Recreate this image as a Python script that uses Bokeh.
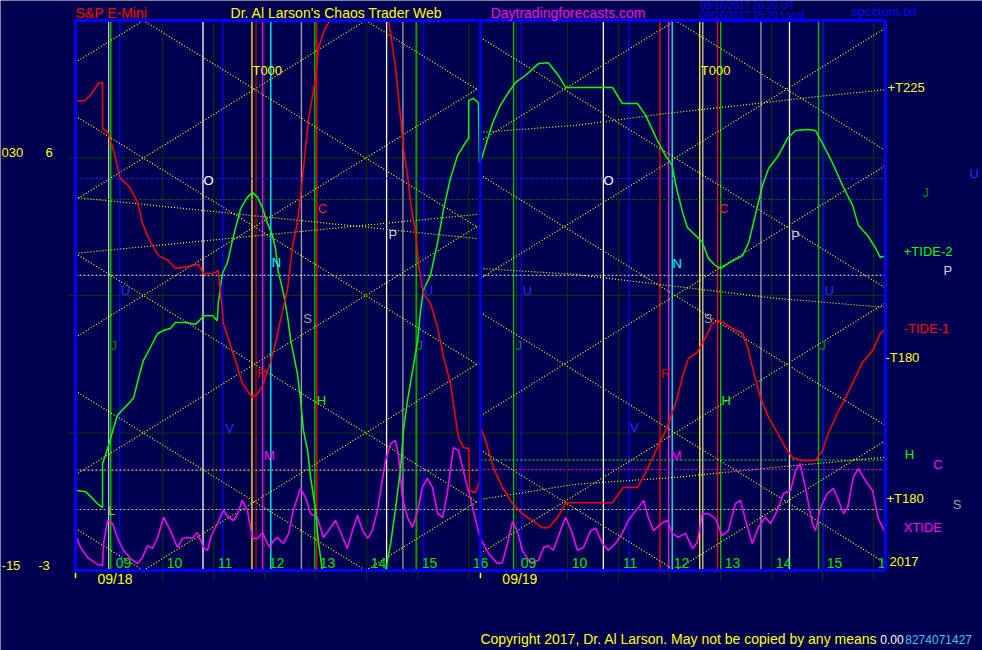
import numpy as np
from bokeh.plotting import figure
from bokeh.models import Range1d, ColumnDataSource
from bokeh.embed import file_html
from bokeh.resources import INLINE
from bokeh.core.properties import value

FONT = "Liberation Sans"
BG = "#000050"

# ---------------- data ----------------
DAY_FIRST_HOUR = 8.29
DAY_LAST_HOUR = 16.23
DAY2_OFFSET = 7.94
DAY_LABELS = ["09/18", "09/19"]
HOURS = [9, 10, 11, 12, 13, 14, 15, 16]
HOUR_LABELS = ["09", "10", "11", "12", "13", "14", "15", "16"]
GRID_LEVELS = [0, 3, 6]
Y_MIN, Y_MAX = -3, 9

# lattice (yellow dotted diamond net)
LATTICE_TOP_HOUR = [9.62, 12.11]
LATTICE_END_HOUR = [16.17, 16.23]
LATTICE_HALF_WIDTH = 2.18
LATTICE_SPACING = 3.0

# slow yellow lines
TLINE_D1A_H = [8.29, 16.17]
TLINE_D1A_V = [5.14, 4.24]
TLINE_D1B_H = [8.29, 16.17]
TLINE_D1B_V = [3.92, 4.77]
T225_H = [8.29, 10.15, 11.92, 13.88, 14.72, 16.23]
T225_V = [6.56, 6.71, 6.97, 7.21, 7.32, 7.49]
T180M_H = [8.29, 10.15, 12.11, 14.07, 16.23]
T180M_V = [3.59, 3.46, 3.20, 2.94, 2.74]
T180P_H = [8.29, 10.15, 12.11, 14.07, 16.23]
T180P_V = [-1.45, -1.12, -0.97, -0.75, -0.53]

# horizontal dotted levels
HLEVEL_BLUE = 5.55
HLEVEL_DKGREEN = 5.09
HLEVEL_WHITE = 3.44
HLEVEL_MAGENTA = -0.80
HLEVEL_GREEN = [-0.82, -0.59]
HLEVEL_GRAY = -1.67

# vertical event lines
VL_D1_HOUR = [8.94, 8.98, 9.16, 10.79, 11.18, 11.75, 11.83, 11.96, 12.12, 12.72, 12.98, 13.02, 14.39, 14.71, 14.97, 15.12]
VL_D1_KIND = ["silver", "green", "blue", "white", "blue", "yellow", "darkred", "magenta", "cyan", "gray", "green", "red", "white", "gray", "green", "blue"]
VL_D2_HOUR = [8.94, 9.09, 10.70, 11.20, 11.81, 11.98, 12.05, 12.59, 12.65, 12.94, 13.00, 13.79, 14.35, 14.92, 15.02]
VL_D2_KIND = ["green", "blue", "white", "blue", "red", "magenta", "cyan", "yellow", "tan", "red", "green", "gray", "white", "green", "blue"]

# red series
RED_D1_H = [8.29, 8.47, 8.58, 8.74, 8.82, 8.82, 8.92, 9.02, 9.17, 9.33, 9.51, 9.60, 9.70, 9.80, 9.92, 10.11, 10.25, 10.49, 10.70, 10.80,
            11.00, 11.09, 11.13, 11.19, 11.33, 11.47, 11.56, 11.76, 11.86, 11.96, 12.11, 12.21, 12.35, 12.45, 12.54, 12.64, 12.70, 12.80, 12.86, 12.94,
            13.00, 13.05, 13.19, 13.29, 14.37, 14.43, 14.56, 14.66, 14.72, 14.80, 14.86, 14.96, 15.02, 15.11, 15.25, 15.39, 15.51, 15.64, 15.80, 15.90,
            16.00, 16.02, 16.13, 16.21, 16.23]
RED_D1_V = [7.25, 7.25, 7.36, 7.63, 7.65, 6.64, 6.56, 6.23, 5.55, 5.40, 5.03, 4.59, 4.31, 4.09, 3.87, 3.76, 3.59, 3.63, 3.68, 3.48,
            3.48, 3.55, 3.11, 2.39, 1.91, 1.43, 1.08, 0.77, 0.86, 1.04, 1.54, 1.95, 2.67, 3.15, 4.03, 4.59, 5.12, 6.21, 6.86, 7.36,
            7.76, 8.39, 8.85, 9.40, 9.40, 9.00, 8.02, 6.93, 6.21, 5.62, 5.03, 4.37, 3.65, 3.04, 2.83, 2.30, 1.65, 1.08, -0.10, -0.32,
            -0.34, -1.26, -1.30, -1.08, 0.10]
RED_D2_H = [8.29, 8.39, 8.54, 8.72, 8.92, 9.11, 9.31, 9.51, 9.62, 9.80, 9.96, 10.00, 10.88, 11.09, 11.37, 11.53, 11.76, 11.92, 12.05, 12.15,
            12.27, 12.37, 12.54, 12.70, 12.84, 12.96, 13.05, 13.23, 13.43, 13.53, 13.64, 13.78, 13.94, 14.11, 14.27, 14.41, 14.60, 14.86, 15.00, 15.11,
            15.29, 15.45, 15.64, 15.78, 15.98, 16.13, 16.21]
RED_D2_V = [0.12, -0.16, -0.75, -1.19, -1.54, -1.76, -1.91, -2.07, -2.07, -1.85, -1.54, -1.52, -1.52, -1.19, -1.19, -0.86, -0.32, 0.05, 0.43, 0.77,
            1.30, 1.63, 1.76, 2.08, 2.39, 2.45, 2.41, 2.28, 2.17, 1.87, 1.36, 0.77, 0.34, 0.01, -0.32, -0.54, -0.60, -0.60, -0.38, -0.01,
            0.43, 0.77, 1.21, 1.54, 1.80, 2.17, 2.24]

# green series
GRN_D1_H = [8.29, 8.49, 8.72, 8.82, 8.82, 8.92, 9.02, 9.11, 9.23, 9.33, 9.43, 9.53, 9.62, 9.76, 9.90, 10.02, 10.15, 10.25, 10.45, 10.64,
            10.78, 10.80, 10.98, 11.07, 11.09, 11.17, 11.27, 11.39, 11.53, 11.66, 11.76, 11.86, 11.96, 12.05, 12.15, 12.21, 12.27, 12.37, 12.45, 12.51,
            12.64, 12.70, 12.76, 12.84, 12.90, 12.96, 13.00, 13.05, 13.13, 14.37, 14.47, 14.56, 14.66, 14.72, 14.80, 14.90, 15.00, 15.05, 15.11, 15.25,
            15.39, 15.51, 15.64, 15.78, 15.94, 16.00, 16.00, 16.09, 16.19, 16.21]
GRN_D1_V = [-1.25, -1.28, -1.54, -1.63, -0.67, -0.34, 0.05, 0.38, 0.53, 0.64, 0.77, 1.21, 1.58, 1.87, 2.17, 2.24, 2.28, 2.41, 2.41, 2.37,
            2.52, 2.56, 2.56, 2.45, 2.83, 3.48, 3.72, 4.31, 4.90, 5.14, 5.25, 5.14, 4.90, 4.59, 4.31, 4.03, 3.50, 3.04, 2.52, 2.02,
            1.30, 0.77, 0.05, -0.38, -0.97, -1.41, -1.73, -2.35, -3.40, -3.40, -2.41, -1.69, -0.82, 0.05, 0.71, 1.36, 2.02, 2.61, 3.11, 3.44,
            4.16, 4.90, 5.55, 6.05, 6.34, 6.43, 7.25, 7.30, 7.21, 5.90]
GRN_D2_H = [8.29, 8.39, 8.53, 8.68, 8.84, 8.98, 9.17, 9.43, 9.62, 9.82, 9.96, 10.88, 11.07, 11.37, 11.53, 11.76, 11.92, 12.05, 12.11, 12.17,
            12.27, 12.35, 12.51, 12.64, 12.76, 12.90, 13.00, 13.15, 13.43, 13.55, 13.68, 13.82, 13.94, 14.13, 14.31, 14.47, 14.72, 14.86, 15.02, 15.19,
            15.39, 15.59, 15.70, 15.88, 16.04, 16.13, 16.23]
GRN_D2_V = [5.90, 6.27, 6.77, 7.15, 7.43, 7.65, 7.80, 8.06, 8.08, 7.80, 7.54, 7.54, 7.19, 7.19, 6.93, 6.38, 6.05, 5.84, 5.47, 5.18,
            4.75, 4.48, 4.31, 4.16, 3.81, 3.65, 3.59, 3.70, 3.87, 4.16, 4.75, 5.40, 5.77, 6.05, 6.43, 6.60, 6.62, 6.60, 6.27, 5.90,
            5.40, 4.96, 4.53, 4.31, 4.03, 3.83, 3.87]

# magenta series (XTIDE)
MAG_D1_H = [8.29, 8.39, 8.53, 8.72, 8.82, 8.84, 8.92, 9.02, 9.11, 9.23, 9.37, 9.51, 9.60, 9.70, 9.80, 9.90, 10.02, 10.15, 10.29, 10.39,
            10.49, 10.58, 10.68, 10.80, 10.88, 10.94, 11.07, 11.19, 11.29, 11.39, 11.47, 11.56, 11.66, 11.76, 11.86, 11.96, 12.05, 12.11, 12.17, 12.25,
            12.37, 12.47, 12.56, 12.70, 12.80, 12.90, 13.03, 13.15, 13.25, 13.39, 13.53, 13.62, 13.72, 13.82, 13.92, 14.02, 14.11, 14.21, 14.37, 14.47,
            14.56, 14.62, 14.70, 14.80, 14.90, 15.00, 15.09, 15.19, 15.29, 15.39, 15.49, 15.58, 15.70, 15.80, 15.94, 16.03, 16.17]
MAG_D1_V = [-2.24, -2.50, -2.72, -2.87, -2.89, -2.41, -1.91, -1.98, -2.28, -2.56, -2.74, -2.85, -2.72, -2.46, -2.52, -2.28, -1.84, -2.13, -2.50, -2.30,
            -2.28, -2.30, -2.17, -2.50, -2.56, -2.28, -1.98, -1.69, -1.84, -1.91, -1.76, -1.47, -1.69, -2.30, -2.30, -2.17, -2.41, -2.50, -2.35, -2.28,
            -2.41, -2.19, -1.69, -1.21, -1.41, -1.76, -1.84, -2.28, -2.13, -1.91, -2.28, -2.52, -2.13, -1.80, -2.13, -2.30, -2.13, -1.69, -0.60, -0.23,
            -0.16, -0.45, -1.41, -1.84, -2.06, -1.69, -1.19, -0.99, -1.19, -1.76, -1.84, -1.32, -0.32, -0.38, -1.04, -1.41, -2.06]
MAG_D2_H = [8.29, 8.45, 8.62, 8.72, 8.82, 8.92, 9.02, 9.11, 9.27, 9.43, 9.53, 9.62, 9.72, 9.86, 9.96, 10.09, 10.19, 10.31, 10.45, 10.55,
            10.68, 10.80, 10.94, 11.07, 11.19, 11.29, 11.39, 11.49, 11.58, 11.68, 11.86, 11.96, 12.05, 12.17, 12.31, 12.45, 12.54, 12.64, 12.76, 12.90,
            13.03, 13.15, 13.29, 13.39, 13.49, 13.62, 13.74, 13.88, 13.98, 14.11, 14.23, 14.37, 14.47, 14.56, 14.66, 14.80, 14.86, 14.96, 15.09, 15.21,
            15.31, 15.41, 15.49, 15.60, 15.70, 15.84, 15.98, 16.09, 16.21]
MAG_D2_V = [-2.30, -2.63, -2.85, -2.83, -2.41, -1.93, -2.17, -2.56, -2.83, -2.78, -2.50, -2.46, -2.56, -2.13, -1.84, -2.19, -2.56, -2.50, -2.13, -2.08,
            -2.41, -2.56, -2.41, -2.19, -1.91, -1.76, -1.63, -1.47, -1.84, -2.13, -1.96, -1.91, -2.19, -2.28, -2.19, -2.52, -2.39, -1.76, -1.76, -1.87,
            -2.24, -2.13, -1.54, -1.47, -1.91, -2.41, -2.06, -1.84, -1.98, -1.69, -1.32, -1.26, -0.82, -0.67, -1.19, -1.98, -2.13, -1.63, -1.32, -1.21,
            -1.47, -1.76, -1.63, -0.97, -0.78, -1.04, -1.26, -1.87, -2.13]

# letter markers in the chart
LET_D1 = ["T000", "O", "C", "P", "N", "U", "U", "S", "J", "J", "R", "H", "V", "M", "L"]
LET_D1_H = [12.05, 10.90, 13.13, 14.51, 12.23, 9.27, 15.21, 12.84, 9.04, 15.04, 11.94, 13.11, 11.31, 12.09, 9.00]
LET_D1_V = [7.91, 5.51, 4.90, 4.33, 3.72, 3.11, 3.11, 2.50, 1.91, 1.91, 1.30, 0.71, 0.10, -0.49, -1.69]
LET_D2 = ["T000", "O", "C", "P", "N", "U", "U", "S", "R", "J", "J", "H", "V", "M"]
LET_D2_H = [12.90, 10.80, 13.06, 14.47, 12.15, 9.21, 15.13, 12.76, 11.92, 9.04, 15.00, 13.11, 11.31, 12.13]
LET_D2_V = [7.91, 5.51, 4.90, 4.31, 3.70, 3.11, 3.11, 2.50, 1.30, 1.91, 1.91, 0.71, 0.12, -0.49]

# legend texts on the right (name, level)
RIGHT_NAMES = ["+T225", "U", "J", "+TIDE-2", "P", "-TIDE-1", "-T180", "H", "C", "+T180", "S", "XTIDE", "2017"]
RIGHT_LEVELS = [7.54, 5.66, 5.25, 3.96, 3.55, 2.28, 1.65, -0.47, -0.69, -1.43, -1.56, -2.06, -2.80]

# ---------------- styles / layout ----------------
KIND_COLOR = {"white": "#ffffff", "gray": "#a0a0a0", "silver": "#c8c8c8", "green": "#00c000",
              "blue": "#0000ff", "yellow": "#ffff00", "darkred": "#c00000", "red": "#ff0000",
              "magenta": "#ff00ff", "cyan": "#00ffff", "tan": "#d0c8a0"}
LETTER_COLOR = {"T000": "#ffff00", "O": "#ffffff", "C": "#ff2020", "P": "#d0d0d0", "N": "#00ffff",
                "U": "#2030ff", "S": "#a0a0a0", "J": "#008800", "R": "#d00000", "H": "#00ff00",
                "V": "#2030ff", "M": "#ff00ff", "L": "#a0a0a0"}
RIGHT_COLOR = ["#ffff00", "#2030ff", "#008800", "#00ff00", "#d0d0d0", "#ff0000", "#ffff00",
               "#00ff00", "#ff00ff", "#ffff00", "#a0a0a0", "#ff00ff", "#ffff00"]
RIGHT_X = [24.21, 25.82, 24.90, 24.53, 25.31, 24.53, 24.17, 24.55, 25.11, 24.19, 25.49, 24.53, 24.25]
DKGRID = "#003c00"

W, H = 982, 650
PX_PER_HOUR = 51.0
PX_PER_UNIT = 45.83
X0 = DAY_FIRST_HOUR
X1 = DAY_FIRST_HOUR + 2 * DAY2_OFFSET
XL = X0 - 75 / PX_PER_HOUR
XR = XL + W / PX_PER_HOUR
YT = Y_MAX + 20 / PX_PER_UNIT
YB = YT - H / PX_PER_UNIT

p = figure(width=W, height=H, x_range=Range1d(XL, XR), y_range=Range1d(YB, YT),
           x_axis_type=None, y_axis_type=None, toolbar_location=None, output_backend="svg",
           min_border=0, background_fill_color=BG, border_fill_color=BG)
p.grid.visible = False
p.outline_line_color = None


def seg(x0, y0, x1, y1, color, width=1.0, dash="solid"):
    p.segment(x0=list(x0), y0=list(y0), x1=list(x1), y1=list(y1), line_color=color,
              line_width=width, line_dash=dash)


def txt(xs, ys, texts, colors, size="13px", align="left", baseline="middle"):
    src = ColumnDataSource(dict(x=list(xs), y=list(ys), text=list(texts), color=list(colors)))
    p.text(x="x", y="y", text="text", text_color="color", source=src, text_font=value(FONT),
           text_font_size=size, text_align=align, text_baseline=baseline)


# hour lines (dark green) with ticks below the axis
hx = [h + d * DAY2_OFFSET for d in range(2) for h in HOURS]
seg(hx, [Y_MIN - 0.22] * len(hx), hx, [Y_MAX] * len(hx), DKGRID)
# horizontal grid levels with small ticks on the left
seg([X0 - 0.14] * 3, GRID_LEVELS, [X1] * 3, GRID_LEVELS, DKGRID)

# vertical event lines
vx = list(VL_D1_HOUR) + [h + DAY2_OFFSET for h in VL_D2_HOUR]
vc = [KIND_COLOR[k] for k in VL_D1_KIND + VL_D2_KIND]
p.segment(x0=vx, y0=[Y_MIN] * len(vx), x1=vx, y1=[Y_MAX] * len(vx), line_color=vc, line_width=1.3)

# horizontal dotted levels
seg([X0], [HLEVEL_BLUE], [X1], [HLEVEL_BLUE], "#2020ff", 1, "3 2")
seg([X0], [HLEVEL_DKGREEN], [X1], [HLEVEL_DKGREEN], "#008000", 1, "2 2")
seg([X0], [HLEVEL_WHITE], [X1], [HLEVEL_WHITE], "#e8e8e8", 1, "2 2")
seg([X0], [HLEVEL_GREEN[0]], [DAY_LAST_HOUR], [HLEVEL_GREEN[0]], "#00ff00", 1, "2 2")
seg([DAY_LAST_HOUR], [HLEVEL_GREEN[1]], [X1], [HLEVEL_GREEN[1]], "#00ff00", 1, "2 2")
seg([X0], [HLEVEL_MAGENTA], [X1], [HLEVEL_MAGENTA], "#ff00ff", 1, "2 2")
seg([X0], [HLEVEL_GRAY], [X1], [HLEVEL_GRAY], "#b8b8b8", 1, "2 2")

# lattice, clipped to the price box
slope = (LATTICE_SPACING / 2) / LATTICE_HALF_WIDTH
lx0, ly0, lx1, ly1 = [], [], [], []
for d in range(2):
    off = d * DAY2_OFFSET
    xs = DAY_FIRST_HOUR + off
    xe = LATTICE_END_HOUR[d] + off
    xv = LATTICE_TOP_HOUR[d] + off
    for k in range(-8, 10):
        base = Y_MAX - LATTICE_SPACING * k
        for sgn in (-1.0, 1.0):
            m = sgn * slope
            a = base - m * xv
            xa, xb = sorted([(Y_MIN - a) / m, (Y_MAX - a) / m])
            u, v = max(xs, xa), min(xe, xb)
            if v > u:
                lx0.append(u); ly0.append(a + m * u); lx1.append(v); ly1.append(a + m * v)
p.segment(x0=lx0, y0=ly0, x1=lx1, y1=ly1, line_color="#ffff00", line_width=1.2, line_dash="1 2")

# slow yellow lines
for hh, vv, d in [(TLINE_D1A_H, TLINE_D1A_V, 0), (TLINE_D1B_H, TLINE_D1B_V, 0),
                  (T225_H, T225_V, 1), (T180M_H, T180M_V, 1), (T180P_H, T180P_V, 1)]:
    p.line([h + d * DAY2_OFFSET for h in hh], vv, line_color="#ffff00", line_width=1.2, line_dash="1 2")


# series (clipped to the price box)
def series(h1, v1, h2, v2, color):
    xs = list(h1) + [h + DAY2_OFFSET for h in h2]
    ys = np.clip(np.array(list(v1) + list(v2)), Y_MIN, Y_MAX)
    p.line(xs, ys, line_color=color, line_width=1.5)


series(MAG_D1_H, MAG_D1_V, MAG_D2_H, MAG_D2_V, "#ff00ff")
series(GRN_D1_H, GRN_D1_V, GRN_D2_H, GRN_D2_V, "#00ff00")
series(RED_D1_H, RED_D1_V, RED_D2_H, RED_D2_V, "#ff0000")

# letters inside the chart
lt = LET_D1 + LET_D2
txt(list(LET_D1_H) + [h + DAY2_OFFSET for h in LET_D2_H], list(LET_D1_V) + list(LET_D2_V),
    lt, [LETTER_COLOR[t] for t in lt], "13px", "center")

# hour labels inside the chart bottom
hl_x = [h + 0.08 + d * DAY2_OFFSET for d in range(2) for h in HOURS]
txt(hl_x, [Y_MIN + 0.17] * len(hl_x), HOUR_LABELS * 2, ["#00e000"] * len(hl_x), "14px")

# mask right of the price box (so the last hour label is cut like the original)
p.quad(left=[X1 + 0.03], right=[XR], bottom=[Y_MIN - 0.05], top=[Y_MAX], fill_color=BG, line_color=None)

# day separator and box border
seg([DAY_LAST_HOUR], [Y_MIN], [DAY_LAST_HOUR], [Y_MAX], "#0000ff", 2.5)
p.quad(left=[X0], right=[X1], bottom=[Y_MIN], top=[Y_MAX], fill_color=None, line_color="#0000ff", line_width=3)

# day ticks and labels
dx = [DAY_FIRST_HOUR + d * DAY2_OFFSET for d in range(2)]
seg(dx, [Y_MIN - 0.05] * 2, dx, [Y_MIN - 0.17] * 2, "#ffff00", 1.5)
txt([x + 0.43 for x in dx], [Y_MIN - 0.19] * 2, DAY_LABELS, ["#ffff00"] * 2, "14px")

# header
txt([8.29, 11.33, 16.43], [9.17] * 3,
    ["S&P E-Mini", "Dr. Al Larson's Chaos Trader Web", "Daytradingforecasts.com"],
    ["#ff0000", "#ffff00", "#ff00ff"], "14px")
txt([20.54, 20.54], [9.32, 9.11], ["09/16/2017 20:20 UT", "09/16/2017 15:20 Local"],
    ["#0000ff", "#0000ff"], "10px")
txt([23.50], [9.19], ["spcctom.txt"], ["#0000ff"], "13px")

# left scale texts
txt([6.84, 7.70, 6.84, 7.56], [6.12, 6.12, -2.89, -2.89], ["030", "6", "-15", "-3"], ["#ffff00"] * 4, "13px")

# right side texts
txt(RIGHT_X, RIGHT_LEVELS, RIGHT_NAMES, RIGHT_COLOR, "13px")

# footer
txt([16.23], [-4.50], ["Copyright 2017, Dr. Al Larson. May not be copied by any means"], ["#ffff00"], "14px")
txt([24.07, 24.56], [-4.50, -4.50], ["0.00", "8274071427"], ["#ffffff", "#40c0ff"], "12px")

open("out.html", "w").write(file_html(p, INLINE))
